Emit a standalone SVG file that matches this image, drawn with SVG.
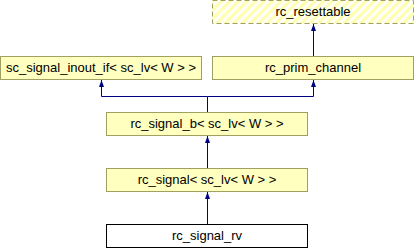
<svg xmlns="http://www.w3.org/2000/svg" width="414" height="248" viewBox="0 0 414 248">
<style>
.box{fill:#ffffc0;stroke:#a0a060;stroke-width:1}
.hatch{fill:url(#stripes);stroke:#a0a060;stroke-width:1;stroke-dasharray:5,3}
.plain{fill:#ffffff;stroke:#000000;stroke-width:1}
text{font-family:"Liberation Sans",Arial,sans-serif;font-size:13px;fill:#000;text-anchor:middle}
.edge{fill:none;stroke:#000080;stroke-width:1;marker-end:url(#arr)}
</style>
<defs>
<pattern id="stripes" patternUnits="userSpaceOnUse" width="6" height="6" patternTransform="rotate(45)">
<rect x="0" y="0" width="6" height="6" fill="#ffffff"/>
<rect x="0" y="0" width="3.2" height="6" fill="#ffffb0"/>
</pattern>
<marker id="arr" markerUnits="userSpaceOnUse" viewBox="0 0 7 5" refX="7" refY="2.5" markerWidth="7" markerHeight="5" orient="auto">
<path d="M0,0 L7,2.5 L0,5 z" fill="#000080"/>
</marker>
</defs>
<g id="connectors">
<path class="edge" d="M313.5 56 V24"/>
<path class="edge" d="M207.5 112 V96.5 H101.5 V80"/>
<path class="edge" d="M207.5 96.5 H313.5 V80"/>
<path class="edge" d="M207.5 168 V136"/>
<path class="edge" d="M207.5 224 V192"/>
</g>
<g id="rc_resettable">
<rect class="hatch" x="212.5" y="0.5" width="201" height="23"/>
<text x="313" y="16">rc_resettable</text>
</g>
<g id="sc_signal_inout_if">
<rect class="box" x="0.5" y="56.5" width="201" height="23"/>
<text x="101" y="72">sc_signal_inout_if&lt; sc_lv&lt; W &gt; &gt;</text>
</g>
<g id="rc_prim_channel">
<rect class="box" x="212.5" y="56.5" width="201" height="23"/>
<text x="313" y="72">rc_prim_channel</text>
</g>
<g id="rc_signal_b">
<rect class="box" x="106.5" y="112.5" width="201" height="23"/>
<text x="207" y="128">rc_signal_b&lt; sc_lv&lt; W &gt; &gt;</text>
</g>
<g id="rc_signal">
<rect class="box" x="106.5" y="168.5" width="201" height="23"/>
<text x="207" y="184">rc_signal&lt; sc_lv&lt; W &gt; &gt;</text>
</g>
<g id="rc_signal_rv">
<rect class="plain" x="106.5" y="224.5" width="201" height="23"/>
<text x="207" y="240">rc_signal_rv</text>
</g>
</svg>
